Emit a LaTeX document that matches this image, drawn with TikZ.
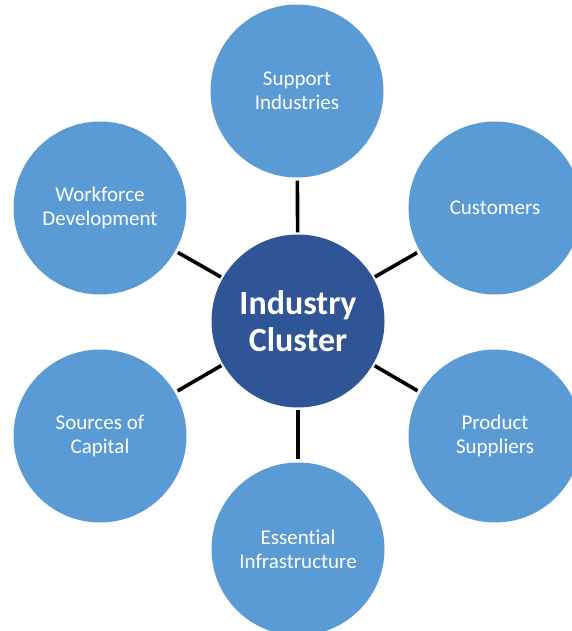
\documentclass[tikz,border=0pt]{standalone}
\usepackage{fontspec}
\setmainfont{Carlito}[Ligatures=NoCommon]
\usetikzlibrary{positioning}
\definecolor{Petal}{HTML}{5B9BD5}
\definecolor{Core}{HTML}{2F5597}

\begin{document}
\begin{tikzpicture}[x=1pt,y=-1pt,
      petal/.style={circle,fill=Petal,minimum size=173pt,inner sep=0pt,
                    text=white,align=center,font=\fontsize{21}{24}\selectfont},
      core/.style={circle,fill=Core,minimum size=173pt,inner sep=0pt,
                   text=white,align=center,font=\fontsize{34}{37}\selectfont\bfseries},
      spoke/.style={line width=3.6pt,black,shorten <=2pt,shorten >=3pt}]
    \useasboundingbox (0,0) rectangle (571,631);
    \node[core] (cluster) at (298,321) {Industry\\Cluster};
    \foreach \n/\x/\y/\txt in {support/297/91/{Support\\Industries},
        customers/495/208/{Customers},
        suppliers/495/436/{Product\\Suppliers},
        infra/298/549/{Essential\\Infrastructure},
        capital/100/436/{Sources of\\Capital},
        workforce/100/208/{Workforce\\Development}}{%
      \node[petal] (\n) at (\x,\y) {\txt};
      \draw[spoke] (cluster) -- (\n);
    }
  \end{tikzpicture}
\end{document}
